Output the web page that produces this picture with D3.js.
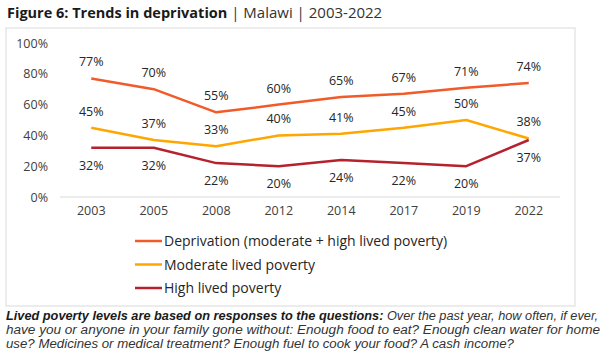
<!DOCTYPE html>
<html>
<head>
<meta charset="utf-8">
<script src="https://cdn.jsdelivr.net/npm/d3@7"></script>
<style>
  body { margin: 0; background: #fff; }
  svg { display: block; font-family: 'Open Sans', sans-serif; }
</style>
</head>
<body>
<div class="canvas"></div>
<script>
const years = ['2003', '2005', '2008', '2012', '2014', '2017', '2019', '2022'];
const deprivation = [77, 70, 55, 60, 65, 67, 71, 74];
const moderate = [45, 37, 33, 40, 41, 45, 50, 38];
const high = [32, 32, 22, 20, 24, 22, 20, 37];
const yTicks = [0, 20, 40, 60, 80, 100];
const seriesNames = ['Deprivation (moderate + high lived poverty)', 'Moderate lived poverty', 'High lived poverty'];

const width = 602;
const height = 364;

const svg = d3.select('.canvas')
  .append('svg')
  .attr('width', width)
  .attr('height', height);

// title
const title = svg.append('text').attr('x', 7).attr('y', 18).attr('fill', '#1a1a1a').style('font-size', '14.5px');
title.append('tspan').attr('font-weight', 'bold').text('Figure 6: Trends in deprivation');
title.append('tspan').text('  |  Malawi  |  2003-2022').attr('fill', '#333').style('font-size', '15px');

// chart frame
svg.append('rect')
  .attr('x', 6).attr('y', 28)
  .attr('width', 569).attr('height', 278)
  .attr('fill', 'none')
  .attr('stroke', '#e6e6e6')
  .attr('stroke-width', 1.5);

const x = d3.scaleBand().domain(years).range([60, 560]);
const y = d3.scaleLinear().domain([0, 100]).range([197, 43]);
const cx = d => x(d) + x.bandwidth() / 2;

// baseline
svg.append('line')
  .attr('x1', 60).attr('x2', 560)
  .attr('y1', y(0)).attr('y2', y(0))
  .attr('stroke', '#d9d9d9')
  .attr('stroke-width', 1);

const yAxis = d3.axisLeft(y).tickValues(yTicks).tickFormat(d => d + '%').tickSize(0).tickPadding(0);
const yAxisGroup = svg.append('g').attr('transform', 'translate(48, 0)').call(yAxis);
yAxisGroup.select('.domain').remove();
yAxisGroup.selectAll('text').attr('fill', '#404040').style('font-size', '12.5px').style('font-family', "'Open Sans', sans-serif");

const xAxis = d3.axisBottom(x).tickSize(0).tickPadding(0);
const xAxisGroup = svg.append('g').attr('transform', 'translate(0, 206)').call(xAxis);
xAxisGroup.select('.domain').remove();
xAxisGroup.selectAll('text').attr('fill', '#404040').style('font-size', '12.5px').style('font-family', "'Open Sans', sans-serif");

const series = [
  { name: seriesNames[0], values: deprivation, color: '#f15a29', pos: years.map(() => 'above') },
  { name: seriesNames[1], values: moderate, color: '#ffa600', pos: years.map(() => 'above') },
  { name: seriesNames[2], values: high, color: '#b5212c', pos: years.map(() => 'below') }
];

const line = d3.line().x((d, i) => cx(years[i])).y(d => y(d));

series.forEach(s => {
  svg.append('path')
    .datum(s.values)
    .attr('fill', 'none')
    .attr('stroke', s.color)
    .attr('stroke-width', 2.5)
    .attr('stroke-linejoin', 'round')
    .attr('d', line);

  svg.append('g').selectAll('text')
    .data(s.values)
    .enter().append('text')
    .attr('x', (d, i) => cx(years[i]))
    .attr('y', (d, i) => s.pos[i] === 'above' ? y(d) - 12 : y(d) + 22)
    .attr('text-anchor', 'middle')
    .attr('fill', '#262626')
    .style('font-size', '12.5px')
    .text(d => d + '%');
});

// legend
const legend = svg.append('g');
series.forEach((s, i) => {
  const ly = 241 + i * 23.5;
  legend.append('line')
    .attr('x1', 135).attr('x2', 162)
    .attr('y1', ly).attr('y2', ly)
    .attr('stroke', s.color)
    .attr('stroke-width', 2.5);
  legend.append('text')
    .attr('x', 164).attr('y', ly + 5)
    .attr('fill', '#262626')
    .style('font-size', '14px')
    .text(s.name);
});

// footnote
const note = svg.append('g').attr('fill', '#1a1a1a')
  .style('font-size', '12px').style('font-style', 'italic').style('font-family', "'Liberation Sans', sans-serif");
const t1 = note.append('text').attr('x', 6).attr('y', 320).attr('textLength', 592).attr('lengthAdjust', 'spacingAndGlyphs');
t1.append('tspan').attr('font-weight', 'bold').text('Lived poverty levels are based on responses to the questions:');
t1.append('tspan').attr('fill', '#333').text(' Over the past year, how often, if ever,');
note.append('text').attr('x', 6).attr('y', 334).attr('textLength', 594).attr('lengthAdjust', 'spacingAndGlyphs').attr('fill', '#333')
  .text('have you or anyone in your family gone without: Enough food to eat? Enough clean water for home');
note.append('text').attr('x', 6).attr('y', 348).attr('textLength', 508).attr('lengthAdjust', 'spacingAndGlyphs').attr('fill', '#333')
  .text('use? Medicines or medical treatment? Enough fuel to cook your food? A cash income?');
</script>
</body>
</html>
